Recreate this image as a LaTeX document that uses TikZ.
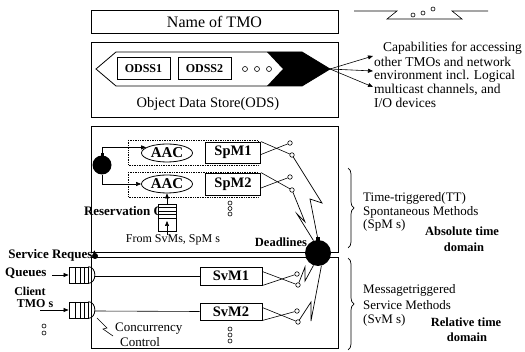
\documentclass[tikz,border=0pt]{standalone}
\usepackage{fontspec}
\setmainfont{Liberation Serif}
\usetikzlibrary{arrows.meta,decorations.pathreplacing,shapes.geometric,calc}
\begin{document}
\begin{tikzpicture}[x=1pt,y=-1pt,
  box/.style={draw,line width=0.9pt,inner sep=0pt,rectangle},
  ln/.style={line width=0.6pt},
  arr/.style={line width=0.6pt,-{Triangle[length=5pt,width=4pt]}},
  sw/.style={circle,draw,line width=0.6pt,fill=white,inner sep=0pt,minimum size=4.5pt},
  sdot/.style={circle,draw,line width=0.6pt,inner sep=0pt,minimum size=4.5pt},
  clock/.style={circle,fill=black,inner sep=0pt},
  txt/.style={font=\fontsize{13}{14}\selectfont,inner sep=0pt},
  btxt/.style={font=\bfseries\fontsize{13}{14}\selectfont,inner sep=0pt},
  dotbox/.style={densely dotted,line width=0.7pt},
  brc/.style={decorate,decoration={brace,amplitude=6pt},line width=0.7pt},
  lightning/.style={line width=0.7pt},
]
\useasboundingbox (0,0) rectangle (525,352);

% top-right fragment
\draw[ln] (354,11) -- (397,11) -- (387,19) -- (462,19) -- (452,11) -- (488,11);
\node[sdot,minimum size=4pt] (f1) at (413,15) {};
\node[sdot,minimum size=4pt] (f2) at (423,13) {};
\node[sdot,minimum size=4pt] (f3) at (433,9) {};

% Name of TMO
\node[box,minimum width=247pt,minimum height=23pt,font=\fontsize{16}{18}\selectfont] (name) at (214.5,21.5) {Name of TMO};

% ODS
\node[box,minimum width=247pt,minimum height=75pt] (ods) at (214.5,79.5) {};
\draw[line width=0.8pt] (96,69) -- (116,52) -- (302,52) -- (330,69) -- (302,86) -- (116,86) -- cycle;
\fill (267,52) -- (302,52) -- (330,69) -- (302,86) -- (267,86) -- (283,69) -- cycle;
\coordinate (tip) at (330,69);
\node[box,line width=0.8pt,minimum width=53pt,minimum height=22pt,font=\bfseries\fontsize{12}{13}\selectfont] (odss1) at (143.5,68.5) {ODSS1};
\node[box,line width=0.8pt,minimum width=53pt,minimum height=22pt,font=\bfseries\fontsize{12}{13}\selectfont] (odss2) at (204.5,68.5) {ODSS2};
\node[sdot,minimum size=5pt] (c1) at (245,69) {};
\node[sdot,minimum size=5pt] (c2) at (257,69) {};
\node[sdot,minimum size=5pt] (c3) at (269,69) {};
\node[txt,font=\fontsize{14.5}{16}\selectfont] (odstxt) at (208,104) {Object Data Store(ODS)};

% capabilities text
\begin{scope}[every node/.append style={font=\fontsize{13.5}{14}\selectfont}]
\node[txt,font=\fontsize{13.5}{14}\selectfont,anchor=west] (cap1) at (383,48) {Capabilities for accessing};
\node[txt,font=\fontsize{13.5}{14}\selectfont,anchor=west] (cap2) at (374,62) {other TMOs and network};
\node[txt,font=\fontsize{13.5}{14}\selectfont,anchor=west] (cap3) at (374,76) {environment incl. Logical};
\node[txt,font=\fontsize{13.5}{14}\selectfont,anchor=west] (cap4) at (374,90) {multicast channels, and};
\node[txt,font=\fontsize{13.5}{14}\selectfont,anchor=west] (cap5) at (374,103) {I/O devices};
\end{scope}
\coordinate (e1) at (373,56);
\coordinate (e2) at (373,71);
\coordinate (e3) at (373,87);
\draw[arr] (tip) -- (e1);
\draw[arr] (tip) -- (e2);
\draw[arr] (tip) -- (e3);

% SpM section
\node[box,minimum width=247pt,minimum height=126pt] (spmbox) at (214.5,189) {};
\draw[dotbox] (128,140) rectangle (258,165);
\draw[dotbox] (128,172) rectangle (258,197);
\node[box,fill=white,minimum width=55pt,minimum height=21pt,font=\bfseries\fontsize{14.5}{15}\selectfont] (spm1) at (233,152.5) {SpM1};
\node[box,fill=white,minimum width=55pt,minimum height=22pt,font=\bfseries\fontsize{14.5}{15}\selectfont] (spm2) at (233,184) {SpM2};
\node[ellipse,draw,line width=0.8pt,fill=white,inner sep=0pt,minimum width=51pt,minimum height=18pt,font=\bfseries\fontsize{15}{16}\selectfont] (aac1) at (167,153) {AAC};
\node[ellipse,draw,line width=0.8pt,fill=white,inner sep=0pt,minimum width=51pt,minimum height=18pt,font=\bfseries\fontsize{15}{16}\selectfont] (aac2) at (167,184) {AAC};

\node[clock,minimum size=19pt] (lclock) at (102,165) {};
\fill (100.5,153) rectangle (103.5,157);
\draw[arr] (lclock.north) |- (aac1.165);
\draw[arr] (lclock.south) |- (aac2.west);

% reservation queue
\node[btxt,anchor=east] (restxt) at (164,212) {Reservation Q};
\node[box,line width=0.8pt,fill=white,minimum width=18pt,minimum height=27pt] (resq) at (167,217.5) {};
\foreach \yy in {207.5,211,214.5,218}{\draw[ln] (resq.west |- 0,\yy) -- (resq.east |- 0,\yy);}
\node[txt,font=\fontsize{12}{13}\selectfont] (fromtxt) at (173,240) {From SvMs, SpM s};
\coordinate (resin) at (167,221);
\draw[arr] (fromtxt.north -| resin) -- (resin);
\draw[arr] (resq.north) -- (aac2.south);

\node[sdot,minimum size=4pt] (d1) at (230,203) {};
\node[sdot,minimum size=4pt] (d2) at (230,208.5) {};
\node[sdot,minimum size=4pt] (d3) at (230,214) {};

% SpM switches
\node[sw] (s1a) at (290,143) {};
\node[sw] (s1b) at (292,155) {};
\node[sw] (s2a) at (290,177) {};
\node[sw] (s2b) at (292,190) {};
\draw[ln] (spm1.north east) -- (s1b);
\draw[ln] ($(spm1.east)+(0,2)$) -- (s1a);
\draw[ln] (spm2.north east) -- (s2b);
\draw[ln] ($(spm2.east)+(0,4)$) -- (s2a);

\node[btxt,font=\bfseries\fontsize{12.5}{13}\selectfont] (dead) at (281,242) {Deadlines};

% SvM section
\node[box,minimum width=247pt,minimum height=91pt] (svmbox) at (214.5,302.5) {};
\node[box,fill=white,minimum width=62pt,minimum height=18pt,font=\bfseries\fontsize{14.5}{15}\selectfont] (svm1) at (231,276) {SvM1};
\node[box,fill=white,minimum width=62pt,minimum height=17pt,font=\bfseries\fontsize{14.5}{15}\selectfont] (svm2) at (231,311.5) {SvM2};

\node[sw] (v1a) at (297,274) {};
\node[sw] (v1b) at (298,285) {};
\node[sw] (v2a) at (297,311) {};
\node[sw] (v2b) at (298,322) {};
\draw[ln] ($(svm1.north east)+(0,5)$) -- (v1b);
\draw[ln] (svm1.south east) -- (v1a);
\draw[ln] ($(svm2.north east)+(0,5)$) -- (v2b);
\draw[ln] (svm2.south east) -- (v2a);

% big clock
\node[clock,minimum size=26pt] (rclock) at (318,253) {};
\fill (316,237) rectangle (320,241);

% lightnings
\draw[lightning] (s1b) -- (322,203) -- (310,199) -- (rclock.north);
\draw[lightning] (s2b) -- (305,222) -- (297,214) -- (rclock.110);
\draw[lightning] (v1b) -- (305,267) -- (305,281) -- (rclock.250);
\draw[lightning] (v2b) -- (311,302) -- (311,321) -- (rclock.285);

\node[sdot,minimum size=4pt] (d4) at (230,329) {};
\node[sdot,minimum size=4pt] (d5) at (230,335) {};
\node[sdot,minimum size=4pt] (d6) at (230,341) {};

% service request queues
\node[box,line width=0.8pt,minimum width=19pt,minimum height=16pt] (q1) at (78.5,275) {};
\node[box,line width=0.8pt,minimum width=19pt,minimum height=16pt] (q2) at (78.5,310) {};
\foreach \xx in {75,80,84}{
  \draw[ln] (\xx,267) -- (\xx,283);
  \draw[ln] (\xx,302) -- (\xx,318);
}
\draw[line width=0.8pt] (q1.north east) .. controls (97,267) and (97,283) .. (q1.south east);
\draw[line width=0.8pt] (q2.north east) .. controls (97,302) and (97,318) .. (q2.south east);
\coordinate (q1e) at (95,276);
\coordinate (q2e) at (95,311);
\draw[ln] (q1e) -- (svm1.west);
\draw[ln] (q2e) -- (svm2.west);
\coordinate (q1in) at (52,275);
\coordinate (q2in) at (40,310);
\draw[arr] (q1in) -- (q1.west);
\draw[arr] (q2in) -- (q2.west);

\node[btxt,anchor=east] (srq) at (97,255) {Service Request};
\node[clock,minimum size=6pt] (blob) at (95,256) {};
\node[btxt,anchor=west] (queues) at (5,273) {Queues};
\node[btxt,font=\bfseries\fontsize{12}{13}\selectfont] (client) at (30,291) {Client};
\node[btxt,font=\bfseries\fontsize{12}{13}\selectfont] (tmos) at (35,304) {TMO s};
\node[sdot,minimum size=4pt] (d7) at (44,326) {};
\node[sdot,minimum size=4pt] (d8) at (44,333) {};

% concurrency control
\draw[ln] (97,318) -- (107,328) -- (103,329) -- (113,336);
\node[txt,anchor=west] (conc) at (115,329) {Concurrency};
\node[txt,anchor=west] (ctrl) at (120,342) {Control};

% braces and texts
\draw[brc] (348,168) -- (348,248);
\draw[brc] (348,258) -- (348,350);
\node[txt,anchor=west] (tt1) at (363,198) {Time-triggered(TT)};
\node[txt,anchor=west] (tt2) at (363,212) {Spontaneous Methods};
\node[txt,anchor=west] (tt3) at (363,225) {(SpM s)};
\node[btxt,font=\bfseries\fontsize{12.5}{13}\selectfont] (abs1) at (462,231) {Absolute time};
\node[btxt,font=\bfseries\fontsize{12.5}{13}\selectfont] (abs2) at (464,247) {domain};
\node[txt,anchor=west] (mt1) at (363,290) {Messagetriggered};
\node[txt,anchor=west] (mt2) at (363,305) {Service Methods};
\node[txt,anchor=west] (mt3) at (363,320) {(SvM s)};
\node[btxt,font=\bfseries\fontsize{12.5}{13}\selectfont] (rel1) at (466,322) {Relative time};
\node[btxt,font=\bfseries\fontsize{12.5}{13}\selectfont] (rel2) at (467,337) {domain};
\end{tikzpicture}
\end{document}
